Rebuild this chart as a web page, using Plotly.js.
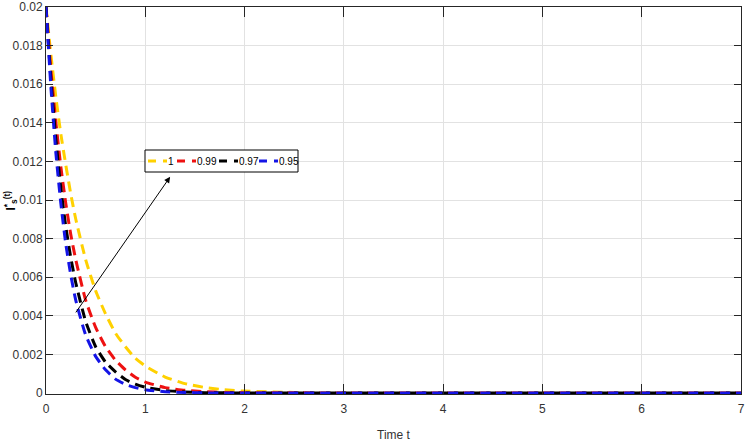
<!DOCTYPE html>
<html>
<head>
<meta charset="utf-8">
<script src="https://cdn.plot.ly/plotly-3.0.1.min.js"></script>
<style>html,body{margin:0;padding:0;background:#fff;}#chart{width:748px;height:445px;}</style>
</head>
<body>
<div id="chart"></div>
<script>
// Time values
const timeT = [0,0.05,0.1,0.15,0.2,0.25,0.3,0.4,0.5,0.6,0.7,0.8,0.9,1.0,1.2,1.4,1.6,1.8,2.0,2.5,3,3.5,4,4.5,5,5.5,6,6.5,7];
// Series (fractional order alpha)
const alpha1    = [0.02,0.0175,0.0153,0.0134,0.0118,0.0103,0.0090,0.0069,0.0053,0.0041,0.0031,0.0024,0.0018,0.0014,0.00083,0.00049,0.00029,0.00017,0.0001,0.00003,0.00001,0,0,0,0,0,0,0,0];
const alpha099  = [0.02,0.0167,0.0140,0.0117,0.0098,0.0082,0.0069,0.0048,0.0034,0.0024,0.0017,0.0012,0.00082,0.00057,0.00028,0.00014,0.00007,0.00003,0.00002,0.00001,0,0,0,0,0,0,0,0,0];
const alpha097  = [0.02,0.0162,0.0131,0.0106,0.0086,0.0070,0.0057,0.0037,0.0024,0.0016,0.0011,0.0007,0.00046,0.0003,0.00013,0.00006,0.00002,0.00001,0,0,0,0,0,0,0,0,0,0,0];
const alpha095  = [0.02,0.0158,0.0124,0.0098,0.0077,0.0061,0.0048,0.0030,0.0019,0.0012,0.00072,0.00045,0.00028,0.00017,0.00007,0.00003,0.00001,0,0,0,0,0,0,0,0,0,0,0,0];
const seriesNames = ['1','0.99','0.97','0.95'];
const seriesColors = ['#FFD100','#EE1111','#000000','#1414E6'];
const seriesData = [alpha1, alpha099, alpha097, alpha095];

const FONT = '"Liberation Sans", Arial, sans-serif';
const DASH = '10px,6px';

const traces = seriesData.map((ys, i) => ({
  x: timeT, y: ys, type: 'scatter', mode: 'lines', name: seriesNames[i],
  line: {color: seriesColors[i], width: 3, dash: DASH, shape: 'spline', smoothing: 0.5},
  showlegend: false, hoverinfo: 'skip'
}));

// manual legend (paper coordinates)
const L = 46, R = 741, T = 7, B = 394;
const px = v => (v - L) / (R - L);
const py = v => (B - v) / (B - T);
const legendStarts = [148, 177, 219, 259];
const shapes = [{
  type: 'rect', xref: 'paper', yref: 'paper',
  x0: px(145), x1: px(298), y0: py(172), y1: py(150),
  line: {color: '#000', width: 1}, fillcolor: '#fff', layer: 'above'
}];
const annotations = [];
seriesNames.forEach((n, i) => {
  const s = legendStarts[i];
  shapes.push({type: 'line', xref: 'paper', yref: 'paper', layer: 'above',
    x0: px(s), x1: px(s + 19), y0: py(161), y1: py(161),
    line: {color: seriesColors[i], width: 3, dash: '8px,7px'}});
  annotations.push({xref: 'paper', yref: 'paper', x: px(s + 19), y: py(161),
    xanchor: 'left', yanchor: 'middle', showarrow: false, text: n, borderpad: 0,
    font: {family: FONT, size: 10, color: '#000'}});
});
annotations.push({
  x: 1.25, y: 0.0112, ax: 0.29, ay: 0.0041, xref: 'x', yref: 'y', axref: 'x', ayref: 'y',
  text: '', showarrow: true, arrowhead: 2, arrowsize: 1.2, arrowwidth: 1, arrowcolor: '#000', standoff: 0
});
// y-axis title
annotations.push({
  xref: 'paper', yref: 'paper', x: px(10), y: 0.5, xanchor: 'center', yanchor: 'middle',
  textangle: -90, showarrow: false,
  text: '<b>I<sup>*</sup><sub>s</sub><sup>(t)</sup></b>',
  font: {family: FONT, size: 12, color: '#000'}
});

const axisCommon = {
  showline: true, mirror: 'ticks', linecolor: '#262626', linewidth: 1,
  ticks: 'inside', tickcolor: '#262626', tickwidth: 1,
  showgrid: true, gridcolor: '#e2e2e2', gridwidth: 1, zeroline: false,
  tickfont: {family: FONT, size: 12, color: '#333'}
};

const layout = {
  width: 748, height: 445,
  margin: {l: 46, r: 7, t: 7, b: 51},
  paper_bgcolor: '#fff', plot_bgcolor: '#fff',
  font: {family: FONT, color: '#333'},
  xaxis: Object.assign({}, axisCommon, {
    range: [0, 7], dtick: 1, tick0: 0, ticklen: 10, ticklabelstandoff: 4,
    title: {text: 'Time t', font: {family: FONT, size: 12, color: '#333'}, standoff: 15}
  }),
  yaxis: Object.assign({}, axisCommon, {
    range: [-0.00005, 0.02], dtick: 0.002, tick0: 0, ticklen: 7
  }),
  shapes: shapes,
  annotations: annotations,
  showlegend: false
};

Plotly.newPlot('chart', traces, layout, {displayModeBar: false, staticPlot: true});
</script>
</body>
</html>
